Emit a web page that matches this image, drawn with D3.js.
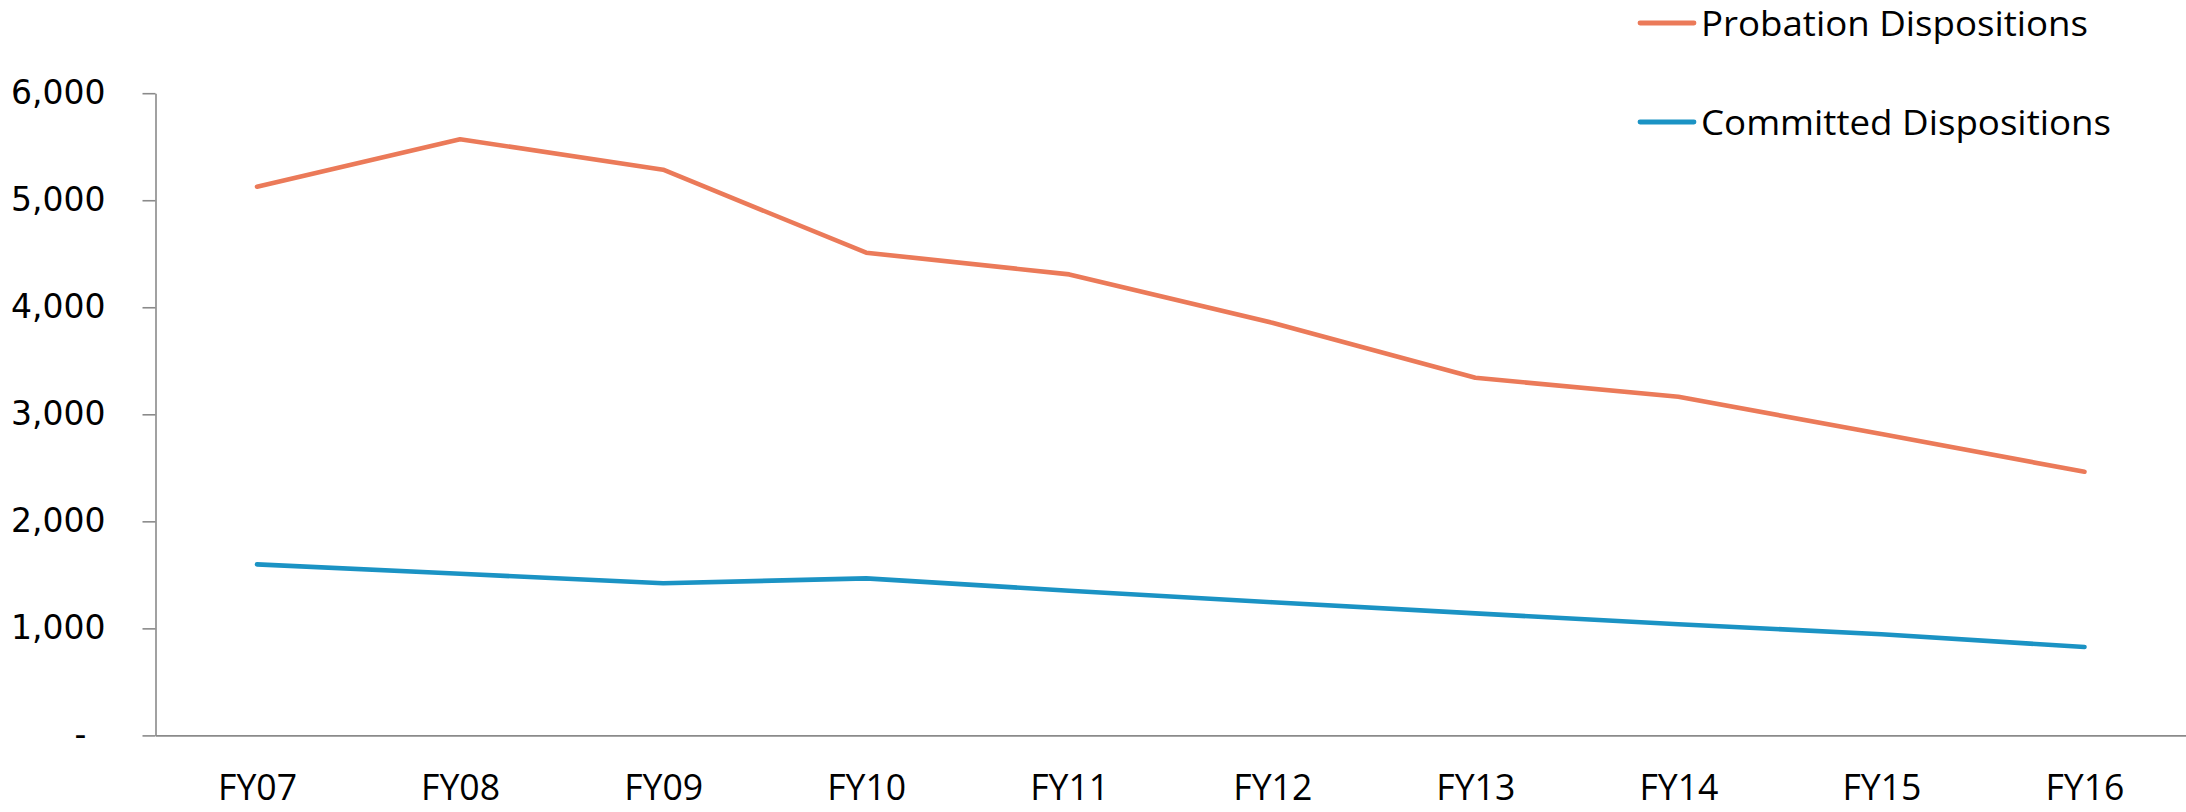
<!DOCTYPE html>
<html>
<head>
<meta charset="utf-8">
<script src="https://cdn.jsdelivr.net/npm/d3@7"></script>
<style>
  html, body { margin: 0; padding: 0; background: #fff; }
  svg { display: block; }
</style>
</head>
<body>
<svg id="chart" width="2186" height="812"></svg>
<script>
// Fiscal years on the category axis
const years = ["FY07", "FY08", "FY09", "FY10", "FY11", "FY12", "FY13", "FY14", "FY15", "FY16"];

// Annual disposition counts
const probationDispositions = [5126, 5570, 5285, 4510, 4307, 3855, 3341, 3164, 2815, 2463];
const committedDispositions = [1598, 1510, 1421, 1467, 1352, 1244, 1140, 1039, 945, 826];

// Value-axis ticks
const yTicks = [0, 1000, 2000, 3000, 4000, 5000, 6000];

const seriesNames = ["Probation Dispositions", "Committed Dispositions"];
const seriesColors = ["#EB7A59", "#1B93C4"];

const svg = d3.select("#chart");
const plot = { left: 155.5, right: 2186, top: 93.2, bottom: 735.4 };

const x = d3.scalePoint()
  .domain(years)
  .range([plot.left, plot.right])
  .padding(0.5);

const y = d3.scaleLinear()
  .domain([0, 6000])
  .range([plot.bottom, plot.top]);

const axisGray = "#8A8A8A";

// Category axis: baseline and year labels
const xAxis = svg.append("g")
  .attr("transform", `translate(0,${plot.bottom})`)
  .call(d3.axisBottom(x).tickSizeInner(0).tickSizeOuter(0));
xAxis.select(".domain").attr("stroke", axisGray).attr("stroke-width", 1.6);
xAxis.selectAll("text")
  .attr("y", 65)
  .attr("dy", 0)
  .attr("fill", "#000")
  .attr("textLength", 79)
  .attr("lengthAdjust", "spacingAndGlyphs")
  .style("font-family", "'Open Sans', 'Noto Sans', sans-serif")
  .style("font-size", "36px");

// Value axis
const fmt = d3.format(",");
const yAxis = svg.append("g")
  .attr("transform", `translate(${plot.left},0)`)
  .call(d3.axisLeft(y)
    .tickValues(yTicks)
    .tickSizeInner(13)
    .tickSizeOuter(0)
    .tickPadding(37)
    .tickFormat(d => d === 0 ? "-" : fmt(d)));
yAxis.select(".domain").attr("stroke", axisGray).attr("stroke-width", 1.6);
yAxis.selectAll(".tick line").attr("stroke", axisGray).attr("stroke-width", 1.6);
yAxis.selectAll(".tick text")
  .attr("fill", "#000")
  .style("font-family", "'DejaVu Sans', Verdana, sans-serif")
  .style("font-size", "33px")
  .attr("dx", d => d === 0 ? -19 : 0);

// Series lines
const line = d3.line()
  .x((d, i) => x(years[i]))
  .y(d => y(d));

[probationDispositions, committedDispositions].forEach((vals, k) => {
  svg.append("path")
    .datum(vals)
    .attr("d", line)
    .attr("fill", "none")
    .attr("stroke", seriesColors[k])
    .attr("stroke-width", 4.6)
    .attr("stroke-linejoin", "round")
    .attr("stroke-linecap", "round");
});

// Legend, top right
const legend = svg.append("g");
const legendRows = [23, 122];
const legendWidths = [387, 410];
seriesNames.forEach((name, k) => {
  const row = legend.append("g").attr("transform", `translate(0,${legendRows[k]})`);
  row.append("line")
    .attr("x1", 1640).attr("x2", 1694)
    .attr("y1", 0).attr("y2", 0)
    .attr("stroke", seriesColors[k])
    .attr("stroke-width", 4.8)
    .attr("stroke-linecap", "round");
  row.append("text")
    .attr("x", 1701)
    .attr("y", 13)
    .attr("fill", "#000")
    .attr("textLength", legendWidths[k])
    .attr("lengthAdjust", "spacingAndGlyphs")
    .style("font-family", "'Open Sans', 'Noto Sans', sans-serif")
    .style("font-size", "34px")
    .text(name);
});
</script>
</body>
</html>
